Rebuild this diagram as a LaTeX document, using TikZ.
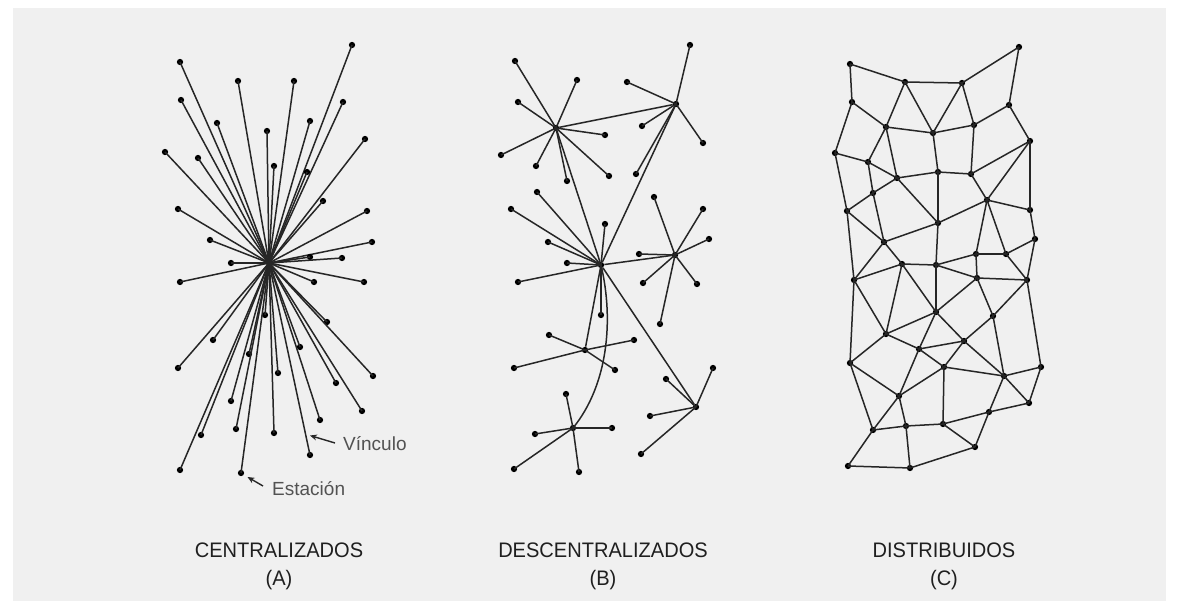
\documentclass[tikz,border=0pt]{standalone}
\usepackage{fontspec}
\setmainfont{Liberation Sans}
\newfontfamily\capfont{Liberation Sans}[FakeStretch=0.955]
\usetikzlibrary{arrows.meta}
\definecolor{bgc}{HTML}{F0F0F0}
\definecolor{linec}{HTML}{262626}
\begin{document}
\begin{tikzpicture}[x=1pt,y=-1pt,
  dot/.style={circle,fill=black,inner sep=0pt,minimum size=6.3pt},
  link/.style={draw=linec,line width=1.5pt},
  captext/.style={font=\capfont\fontsize{21}{24}\selectfont,text=black!88,inner sep=0pt,anchor=base},
  note/.style={font=\fontsize{19}{22}\selectfont,text=black!68,inner sep=0pt,anchor=west},
  pointer/.style={draw=black!85,line width=1.4pt,-{Stealth[length=7pt,width=6pt]}}]
\fill[white] (0,0) rectangle (1179,609);
\useasboundingbox (0,0) rectangle (1179,609);
\fill[bgc] (13,8) rectangle (1166,601);

% ---------- Panel A: centralized ----------
\node[dot] (ahub) at (269,263) {};
\foreach \p [count=\i] in {(352,45),(180,62),(238,81),(294,81),(181,100),(343,102),(217,123),(310,121),(267,131),(365,139),(165,152),(198,158),(274,166),(307,172),(323,201),(178,209),(367,211),(210,240),(372,242),(310,257),(342,258),(231,263),(180,282),(314,282),(364,282),(265,315),(327,322),(213,340),(300,347),(249,354),(178,368),(278,373),(373,376),(336,383),(231,401),(362,411),(236,429),(320,420),(201,435),(274,433),(310,455),(180,470),(241,473)}
  {\node[dot] (a\i) at \p {}; \draw[link] (ahub.center) -- (a\i.center);}

\coordinate (vst) at (335,443);
\coordinate (vtip) at (310,435.5);
\draw[pointer] (vst) -- (vtip);
\node[note] (vlab) at (343,444) {Vínculo};
\coordinate (est) at (263,486);
\coordinate (etip) at (247.5,477);
\draw[pointer] (est) -- (etip);
\node[note] (elab) at (272,489) {Estación};

% ---------- Panel B: decentralized ----------
\node[dot] (bm) at (601,265) {};
\node[dot] (b1) at (556,128) {};
\node[dot] (b2) at (676,104) {};
\node[dot] (b4) at (675,255) {};
\node[dot] (b5) at (585,350) {};
\node[dot] (b6) at (573,428) {};
\node[dot] (b7) at (696,407) {};
\draw[link] (b1) -- (b2);
\draw[link] (b1) -- (bm);
\draw[link] (b2) -- (bm);
\draw[link] (bm) -- (b4);
\draw[link] (bm) -- (b5);
\draw[link] (bm) -- (b7);
\draw[link] (bm.center) .. controls (614,320) and (608,385) .. (b6.center);
\foreach \p [count=\i] in {(515,61),(577,80),(518,102),(605,135),(501,155),(536,166),(567,181),(609,176)}
  {\node[dot] (ba\i) at \p {}; \draw[link] (b1.center) -- (ba\i.center);}
\foreach \p [count=\i] in {(690,45),(627,82),(642,126),(703,143),(636,174)}
  {\node[dot] (bb\i) at \p {}; \draw[link] (b2.center) -- (bb\i.center);}
\foreach \p [count=\i] in {(511,209),(537,192),(548,242),(605,224),(567,263),(518,282),(601,315)}
  {\node[dot] (bc\i) at \p {}; \draw[link] (bm.center) -- (bc\i.center);}
\foreach \p [count=\i] in {(654,197),(703,209),(709,239),(639,254),(643,283),(697,284),(660,324)}
  {\node[dot] (bd\i) at \p {}; \draw[link] (b4.center) -- (bd\i.center);}
\foreach \p [count=\i] in {(549,335),(634,340),(514,368),(615,370)}
  {\node[dot] (be\i) at \p {}; \draw[link] (b5.center) -- (be\i.center);}
\foreach \p [count=\i] in {(566,394),(535,434),(612,428),(514,469),(579,472)}
  {\node[dot] (bf\i) at \p {}; \draw[link] (b6.center) -- (bf\i.center);}
\foreach \p [count=\i] in {(666,379),(713,368),(650,416),(641,454)}
  {\node[dot] (bg\i) at \p {}; \draw[link] (b7.center) -- (bg\i.center);}

% ---------- Panel C: distributed ----------
\foreach \p [count=\i] in {(850,64),(905,82),(962,83),(1019,47),(852,102),(886,127),(933,133),(974,125),(1009,105),(835,153),(868,162),(1030,141),(897,178),(938,172),(971,174),(873,193),(987,200),(1030,210),(847,211),(938,223),(884,242),(1035,239),(976,254),(1006,254),(902,264),(936,265),(977,278),(1027,280),(854,280),(936,312),(993,316),(886,334),(964,341),(919,349),(850,363),(944,367),(1004,376),(1041,367),(899,396),(1029,403),(989,412),(873,430),(906,426),(943,424),(975,447),(848,466),(910,468)}
  {\node[dot] (c\i) at \p {};}
\foreach \u/\v in {1/2,2/3,3/4,4/9,1/5,5/6,5/10,2/6,2/7,3/7,3/8,6/7,7/8,8/9,9/12,6/11,6/13,10/11,10/19,11/13,11/16,7/14,13/14,14/15,8/15,15/12,12/17,12/18,15/17,13/16,16/19,16/21,13/20,14/20,17/20,17/18,17/23,17/24,18/22,19/21,20/21,22/24,23/24,19/29,21/29,21/25,20/26,23/26,23/27,24/28,22/28,25/26,25/29,25/32,25/30,26/27,26/30,27/28,27/30,27/31,28/31,28/38,29/32,29/35,30/32,30/34,30/33,31/33,31/37,32/34,32/35,33/34,33/36,33/37,34/36,34/39,35/39,35/42,36/37,36/39,36/44,37/38,37/40,37/41,38/40,39/42,39/43,40/41,41/44,41/45,42/43,42/46,43/44,43/47,44/45,45/47,46/47}
  {\draw[link] (c\u.center) -- (c\v.center);}

% ---------- Captions ----------
\node[captext] (capA) at (279,558) {CENTRALIZADOS};
\node[captext] (labA) at (279,585) {(A)};
\node[captext] (capB) at (603,558) {DESCENTRALIZADOS};
\node[captext] (labB) at (603,585) {(B)};
\node[captext] (capC) at (944,558) {DISTRIBUIDOS};
\node[captext] (labC) at (944,585) {(C)};
\end{tikzpicture}
\end{document}
